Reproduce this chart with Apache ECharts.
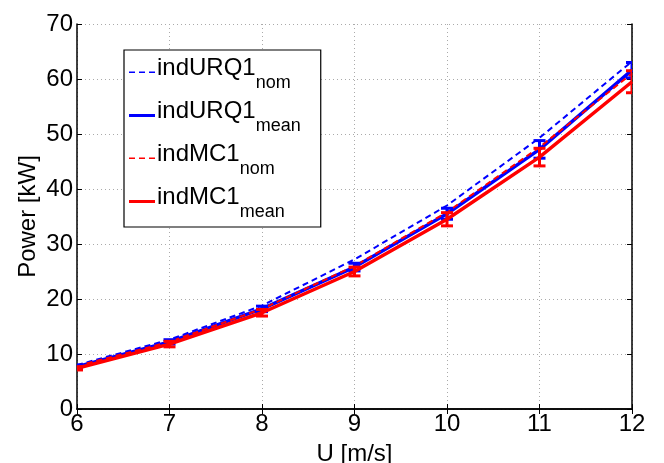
<!DOCTYPE html>
<html>
<head>
<meta charset="utf-8">
<script src="https://cdn.jsdelivr.net/npm/echarts@6/dist/echarts.min.js"></script>
<style>html,body{margin:0;padding:0;background:#fff}#c{width:664px;height:463px}</style>
</head>
<body>
<div id="c"></div>
<script>
var windSpeed = [6, 7, 8, 9, 10, 11, 12];
var urqNom  = [8.0, 12.6, 18.8, 27.2, 37.0, 49.3, 63.2];
var urqMean = [7.7, 12.2, 18.2, 25.8, 35.5, 47.2, 61.6];
var urqErr  = [0.3, 0.4, 0.5, 0.7, 1.0, 1.6, 1.4];
var mcNom   = [7.8, 12.2, 18.2, 26.0, 35.8, 47.6, 61.0];
var mcMean  = [7.4, 11.8, 17.5, 25.0, 34.5, 45.8, 59.5];
var mcErr   = [0.3, 0.5, 0.6, 0.8, 1.2, 1.6, 2.0];
var yTicks = [0, 10, 20, 30, 40, 50, 60, 70];
var seriesNames = ['indURQ1nom', 'indURQ1mean', 'indMC1nom', 'indMC1mean'];

function pairs(ys){ return windSpeed.map(function(x,i){return [x, ys[i]];}); }
function errData(m, e){ return windSpeed.map(function(x,i){return [x, m[i]-e[i], m[i]+e[i]];}); }
function errSeries(m, e, color){
  return {
    type: 'custom', clip: true, z: 5,
    data: errData(m, e),
    renderItem: function(params, api){
      var x = api.value(0);
      var lo = api.coord([x, api.value(1)]);
      var hi = api.coord([x, api.value(2)]);
      var w = 6;
      var s = {stroke: color, lineWidth: 3};
      return {type: 'group', children: [
        {type: 'line', shape: {x1: lo[0], y1: lo[1], x2: hi[0], y2: hi[1]}, style: s},
        {type: 'line', shape: {x1: lo[0]-w, y1: lo[1], x2: lo[0]+w, y2: lo[1]}, style: s},
        {type: 'line', shape: {x1: hi[0]-w, y1: hi[1], x2: hi[0]+w, y2: hi[1]}, style: s}
      ]};
    }
  };
}
var dashIcon = 'path://M0,0h0.01v0.01h-0.01zM0,1h6v1.6h-6zM10,1h6v1.6h-6zM20,1h6v1.6h-6zM25.99,3.99h0.01v0.01h-0.01z';
var solidIcon = 'path://M0,0.5h26v3h-26z';
var font = 'Liberation Sans, Arial, sans-serif';
var chart = echarts.init(document.getElementById('c'), null, {renderer: 'canvas'});
var axisLine = {show: true, lineStyle: {color: '#000', width: 1.5}};
var split = {show: true, lineStyle: {color: '#aaa', type: [1, 3], width: 1}};
var tick = {show: true, inside: true, length: 5, lineStyle: {color: '#000'}};
chart.setOption({
  animation: false,
  grid: {left: 77, right: 32, top: 24, bottom: 54, show: false, containLabel: false, outerBoundsMode: 'none'},
  legend: {
    data: seriesNames.map(function(n, i){ return {name: n, icon: i % 2 === 0 ? dashIcon : solidIcon}; }),
    orient: 'vertical', left: 124, top: 50,
    backgroundColor: '#fff', borderColor: '#000', borderWidth: 1.2,
    padding: [3, 20, 6, 5], itemGap: 4, itemWidth: 26, itemHeight: 4,
    formatter: function(n){
      var base = n.replace(/(nom|mean)$/, '');
      var sub = n.slice(base.length);
      return '{m|' + base + '}{s|' + sub + '}';
    },
    textStyle: {
      color: '#000', fontFamily: font, padding: [0, 0, 0, -3],
      rich: {
        m: {fontSize: 24, fontFamily: font, color: '#000', lineHeight: 39, verticalAlign: 'top', padding: [3,0,0,0]},
        s: {fontSize: 18, fontFamily: font, color: '#000', lineHeight: 39, verticalAlign: 'bottom'}
      }
    }
  },
  xAxis: [{
    type: 'value', min: 6, max: 12, interval: 1,
    name: 'U [m/s]', nameLocation: 'middle', nameGap: 33, nameMoveOverlap: false,
    nameTextStyle: {fontSize: 24, fontFamily: font, color: '#000'},
    axisLine: axisLine, axisTick: tick,
    axisLabel: {fontSize: 24, fontFamily: font, color: '#000', margin: 3},
    splitLine: split
  }, {
    type: 'value', min: 6, max: 12, interval: 1, position: 'top',
    axisLine: axisLine, axisTick: tick,
    axisLabel: {show: false}, splitLine: {show: false}
  }],
  yAxis: [{
    type: 'value', min: 0, max: 70, interval: 10,
    name: 'Power [kW]', nameLocation: 'middle', nameGap: 37, nameMoveOverlap: false,
    nameTextStyle: {fontSize: 24, fontFamily: font, color: '#000'},
    axisLine: axisLine, axisTick: tick,
    axisLabel: {fontSize: 24, fontFamily: font, color: '#000', margin: 4,
      formatter: function(v){ return yTicks.indexOf(v) >= 0 ? String(v) : ''; }},
    splitLine: split
  }, {
    type: 'value', min: 0, max: 70, interval: 10, position: 'right',
    axisLine: axisLine, axisTick: tick,
    axisLabel: {show: false}, splitLine: {show: false}
  }],
  series: [
    {name: seriesNames[0], type: 'line', data: pairs(urqNom), symbol: 'none', z: 2,
     lineStyle: {color: '#0000ff', width: 2, type: [6, 4]}, itemStyle: {color: '#0000ff'}},
    {name: seriesNames[1], type: 'line', data: pairs(urqMean), symbol: 'none', z: 3,
     lineStyle: {color: '#0000ff', width: 3.5}, itemStyle: {color: '#0000ff'}},
    errSeries(urqMean, urqErr, '#0000ff'),
    {name: seriesNames[2], type: 'line', data: pairs(mcNom), symbol: 'none', z: 4,
     lineStyle: {color: '#ff0000', width: 2, type: [6, 4]}, itemStyle: {color: '#ff0000'}},
    {name: seriesNames[3], type: 'line', data: pairs(mcMean), symbol: 'none', z: 6,
     lineStyle: {color: '#ff0000', width: 3.5}, itemStyle: {color: '#ff0000'}},
    errSeries(mcMean, mcErr, '#ff0000')
  ]
});
</script>
</body>
</html>
